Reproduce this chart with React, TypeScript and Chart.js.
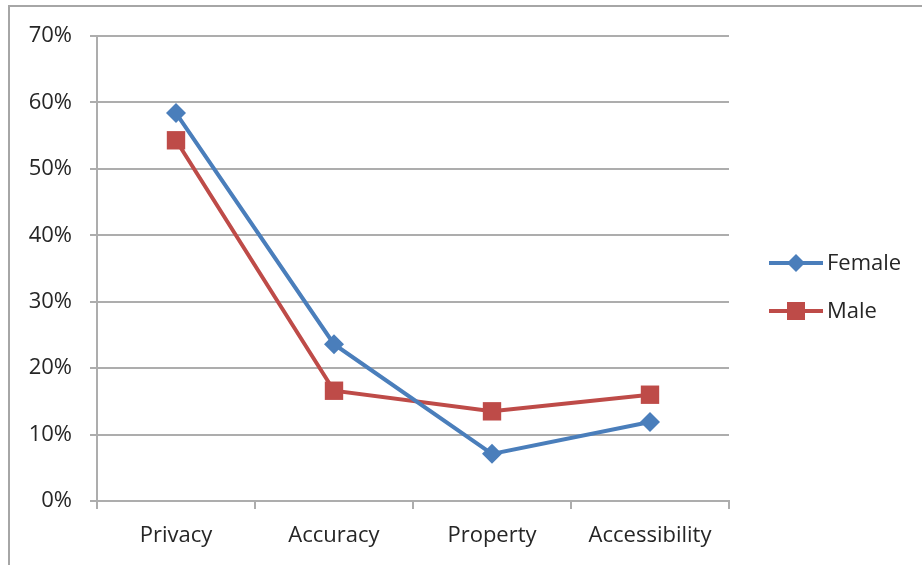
import { useEffect, useRef } from "react";
import { Chart, registerables } from "chart.js";

Chart.register(...registerables);

const categories = ["Privacy", "Accuracy", "Property", "Accessibility"];
const femaleValues = [0.584, 0.236, 0.071, 0.119];
const maleValues = [0.543, 0.166, 0.135, 0.16];
const yTicks = [0, 0.1, 0.2, 0.3, 0.4, 0.5, 0.6, 0.7];

const FONT = "'Open Sans', sans-serif";
const GRID = "#ADADAD";
const TEXT = "#262626";

// legend on the right: short line with the marker in its middle
const lineLegend = {
  id: "lineLegend",
  afterDraw(chart: Chart) {
    const { ctx, chartArea } = chart;
    const x0 = chartArea.right + 40;
    const y0 = 263;
    ctx.save();
    chart.data.datasets.forEach((ds: any, i: number) => {
      const y = y0 + i * 48;
      ctx.strokeStyle = ds.borderColor;
      ctx.lineWidth = 4;
      ctx.beginPath();
      ctx.moveTo(x0, y);
      ctx.lineTo(x0 + 54, y);
      ctx.stroke();
      ctx.fillStyle = ds.backgroundColor;
      const cx = x0 + 27;
      ctx.beginPath();
      if (ds.pointStyle === "rectRot") {
        const r = 9;
        ctx.moveTo(cx, y - r);
        ctx.lineTo(cx + r, y);
        ctx.lineTo(cx, y + r);
        ctx.lineTo(cx - r, y);
        ctx.closePath();
      } else {
        const s = 9;
        ctx.rect(cx - s, y - s, s * 2, s * 2);
      }
      ctx.fill();
      ctx.fillStyle = TEXT;
      ctx.font = `22px ${FONT}`;
      ctx.textAlign = "left";
      ctx.textBaseline = "middle";
      ctx.fillText(ds.label, x0 + 58, y + 1);
    });
    ctx.restore();
  },
};

function LineChart() {
  const canvasRef = useRef<HTMLCanvasElement>(null);
  const chartRef = useRef<Chart | null>(null);

  useEffect(() => {
    if (!canvasRef.current) return;
    if (chartRef.current) chartRef.current.destroy();

    chartRef.current = new Chart(canvasRef.current, {
      type: "line",
      data: {
        labels: categories,
        datasets: [
          {
            label: "Female",
            data: femaleValues,
            borderColor: "#4A7EBB",
            backgroundColor: "#4A7EBB",
            borderWidth: 4,
            pointStyle: "rectRot",
            pointRadius: 10,
            pointBorderWidth: 0,
            tension: 0,
          },
          {
            label: "Male",
            data: maleValues,
            borderColor: "#BE4B48",
            backgroundColor: "#BE4B48",
            borderWidth: 4,
            pointStyle: "rect",
            pointRadius: 13,
            pointBorderWidth: 0,
            tension: 0,
          },
        ],
      },
      options: {
        responsive: true,
        maintainAspectRatio: false,
        animation: false,
        layout: { padding: { top: 36, right: 193, bottom: 0, left: 0 } },
        plugins: {
          legend: { display: false },
          tooltip: { enabled: false },
        },
        scales: {
          x: {
            offset: true,
            afterFit: (scale: any) => {
              scale.height = 64;
            },
            grid: {
              offset: true,
              drawOnChartArea: false,
              drawTicks: true,
              tickLength: 8,
              color: GRID,
              lineWidth: 2,
            },
            border: { display: true, color: GRID, width: 2 },
            ticks: {
              color: TEXT,
              padding: 14,
              font: { family: FONT, size: 22 },
            },
          },
          y: {
            min: 0,
            max: 0.7,
            afterFit: (scale: any) => {
              scale.width = 97;
            },
            afterBuildTicks: (scale: any) => {
              scale.ticks = yTicks.map((v) => ({ value: v }));
            },
            grid: {
              color: GRID,
              lineWidth: 2,
              tickLength: 7,
            },
            border: { display: true, color: GRID, width: 2 },
            ticks: {
              color: TEXT,
              padding: 18,
              font: { family: FONT, size: 22 },
              callback: (v: any) => `${Math.round(Number(v) * 100)}%`,
            },
          },
        },
      },
      plugins: [lineLegend],
    });

    return () => {
      if (chartRef.current) {
        chartRef.current.destroy();
        chartRef.current = null;
      }
    };
  }, []);

  return (
    <div style={{ position: "fixed", left: 0, top: 0, width: 922, height: 565, background: "#fff", overflow: "hidden" }}>
      <div
        style={{
          position: "absolute",
          left: 8,
          top: 5,
          width: 940,
          height: 600,
          border: "2px solid #A6A6A6",
        }}
      />
      <div style={{ position: "absolute", left: 0, top: 0, width: 922, height: 565 }}>
        <canvas ref={canvasRef} />
      </div>
    </div>
  );
}

export default function App() {
  return <LineChart />;
}
